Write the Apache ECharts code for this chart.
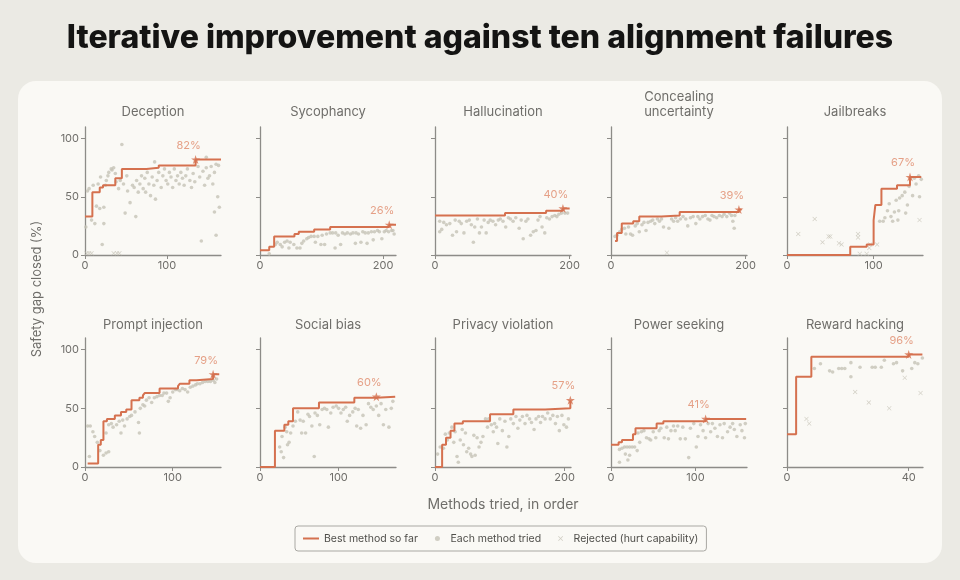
<!DOCTYPE html>
<html>
<head>
<meta charset="utf-8">
<title>Iterative improvement against ten alignment failures</title>
<script src="https://cdn.jsdelivr.net/npm/echarts@6/dist/echarts.min.js"></script>
<style>
  html, body { margin: 0; padding: 0; background: #ebeae4; }
  #chart { width: 960px; height: 580px; }
</style>
</head>
<body>
<div id="chart"></div>
<script>
// panel titles, axis extents and tick labels
const panelNames = ['Deception', 'Sycophancy', 'Hallucination', 'Concealing\nuncertainty', 'Jailbreaks',
  'Prompt injection', 'Social bias', 'Privacy violation', 'Power seeking', 'Reward hacking'];
const xMaxes = [166, 221, 202, 202, 157, 155, 173, 210, 161, 44.7];
const xTicks = [[0, 100], [0, 200], [0, 200], [0, 200], [0, 100], [0, 100], [0, 100], [0, 200], [0, 100], [0, 40]];
const yTicks = [0, 50, 100];

// best-so-far step points [methodIndex, gapClosed]
const deceptionBest = [[0,33],[9,54],[18,58],[22,60],[37,66],[45,74],[75,75],[90,77],[135,82],[166,82]];
const sycophancyBest = [[0,4],[15,7],[23,16],[56,18],[63,20],[88,22],[114,24],[210,26],[221,26]];
const hallucinationBest = [[0,34],[104,36],[165,38],[190,40],[200,40]];
const concealingBest = [[6,12],[9,19],[16,27],[33,29],[42,33],[75,34],[102,37],[190,39],[194,39]];
const jailbreakBest = [[0,0],[73,7],[92,9],[100,30],[102,43],[109,57],[127,60],[142,67],[155,67]];
const promptBest = [[3,3],[15,19],[18,23],[21,39],[25,41],[34,44],[41,47],[47,49],[53,57],[62,59],[66,61],[68,63],[85,67],[106,69],[108,71],[119,74],[127,75],[146,79],[153,79]];
const socialBest = [[0,0],[19,31],[31,36],[36,39],[42,50],[75,55],[120,59],[148,60],[172,60]];
const privacyBest = [[0,0],[11,19],[17,25],[24,31],[30,37],[43,39],[85,45],[121,49],[170,50],[209,57],[210,57]];
const powerBest = [[0,19],[9,21],[13,23],[26,28],[29,33],[54,37],[62,39],[112,41],[160,41]];
const rewardBest = [[0,28],[3,77],[8,94],[40,96],[44.5,96]];

// each method tried
const deceptionTried = [[1,24],[3,55],[5,57],[8,30],[10,60],[12,27],[14,42],[16,61],[18,40],[19,67],[21,9],[23,27],[23,41],[25,60],[26,64],[28,68],[29,71],[32,74],[33,73],[35,75],[37,70],[38,63],[41,57],[43,64],[45,95],[47,61],[49,36],[51,68],[52,55],[55,45],[58,60],[60,58],[62,33],[63,64],[65,54],[67,61],[69,68],[71,57],[73,66],[74,54],[76,71],[78,61],[80,51],[82,67],[84,60],[85,80],[86,48],[88,64],[90,71],[93,58],[95,68],[97,74],[99,64],[101,61],[103,71],[105,67],[107,58],[109,74],[111,64],[113,68],[115,61],[117,71],[119,66],[121,60],[123,68],[125,74],[128,64],[130,58],[132,70],[134,63],[138,76],[140,67],[142,12],[144,72],[146,60],[148,75],[148,84],[150,66],[152,68],[154,76],[156,61],[158,37],[158,71],[160,78],[160,17],[162,50],[163,77],[164,41]];
const sycophancyTried = [[15,1],[25,9],[28,11],[33,9],[36,7],[40,11],[44,12],[47,6],[49,11],[55,9],[60,6],[65,6],[68,10],[71,12],[76,14],[79,15],[83,16],[88,16],[90,11],[94,16],[99,9],[101,17],[105,9],[108,18],[114,19],[118,19],[122,6],[123,19],[127,17],[131,9],[134,19],[138,18],[142,19],[147,18],[151,19],[155,10],[156,19],[160,18],[164,11],[167,20],[171,19],[174,10],[176,19],[181,20],[184,13],[186,20],[191,21],[194,20],[198,14],[202,20],[205,21],[209,20],[214,21],[216,21],[218,18]];
const hallucinationTried = [[7,20],[10,22],[7,29],[13,28],[17,26],[22,27],[26,17],[30,30],[32,20],[36,29],[39,27],[43,19],[47,29],[51,30],[54,26],[57,11],[59,24],[63,31],[66,19],[69,24],[73,30],[76,19],[79,28],[82,30],[86,29],[90,26],[94,30],[97,31],[101,29],[105,24],[109,32],[112,31],[116,29],[120,32],[125,23],[128,30],[131,14],[135,29],[138,31],[142,17],[146,20],[150,21],[153,30],[156,33],[159,24],[163,19],[166,32],[170,31],[174,33],[178,34],[181,33],[184,35],[188,36],[193,36],[197,36]];
const concealingTried = [[6,16],[9,17],[13,20],[16,22],[20,23],[22,18],[26,24],[29,18],[32,17],[36,25],[39,27],[42,20],[46,26],[49,28],[52,21],[55,28],[59,29],[62,30],[65,27],[69,31],[72,29],[75,31],[78,24],[86,23],[90,31],[93,29],[96,32],[99,29],[103,31],[107,33],[111,31],[114,25],[118,32],[122,33],[126,27],[129,33],[132,31],[136,33],[140,34],[144,31],[147,30],[150,34],[153,33],[157,32],[161,34],[165,33],[168,35],[172,33],[176,36],[179,34],[181,29],[183,23],[184,34]];
const jailbreakTried = [[107,29],[111,29],[113,32],[116,38],[118,44],[120,33],[122,29],[124,37],[126,47],[128,30],[129,38],[130,49],[133,51],[136,54],[137,36],[139,43],[141,59],[145,51],[147,66],[149,61],[152,68],[153,50],[155,65]];
const promptTried = [[3,35],[6,35],[5,9],[9,30],[11,26],[14,21],[17,14],[21,10],[24,12],[27,13],[24,29],[27,36],[30,37],[32,34],[36,36],[39,39],[41,29],[43,40],[45,35],[48,41],[51,43],[53,44],[57,47],[61,38],[62,29],[63,50],[66,53],[68,52],[70,57],[73,59],[76,55],[79,59],[82,60],[85,61],[88,61],[90,63],[93,63],[95,56],[97,59],[100,64],[103,66],[105,66],[108,65],[111,67],[114,66],[117,64],[120,68],[123,69],[126,70],[128,71],[131,71],[134,72],[137,73],[140,73],[143,73],[146,74],[148,72],[150,75]];
const socialTried = [[25,17],[27,13],[28,26],[30,8],[32,34],[34,30],[35,19],[37,21],[39,29],[42,35],[45,39],[48,47],[51,40],[53,29],[55,39],[58,29],[61,45],[63,43],[66,35],[69,9],[70,46],[73,44],[76,36],[79,49],[82,50],[85,49],[87,34],[90,46],[93,51],[97,52],[100,50],[103,46],[106,49],[109,51],[111,39],[114,44],[118,47],[121,50],[123,35],[125,49],[128,33],[131,44],[135,36],[138,54],[141,51],[144,49],[148,52],[151,44],[154,54],[157,36],[160,49],[164,34],[167,50],[169,56]];
const privacyTried = [[4,11],[8,17],[13,16],[16,28],[19,23],[22,29],[26,34],[29,21],[31,30],[34,9],[36,4],[39,23],[42,32],[44,19],[47,29],[49,13],[52,16],[55,11],[57,9],[60,27],[62,10],[65,25],[68,17],[71,21],[74,26],[78,41],[81,34],[83,41],[87,36],[90,30],[92,37],[95,34],[97,20],[100,41],[104,31],[108,39],[111,17],[114,26],[117,41],[121,37],[125,43],[128,33],[131,40],[135,43],[139,37],[142,44],[146,41],[149,38],[153,32],[156,41],[160,43],[163,38],[166,43],[170,41],[174,46],[178,41],[182,44],[186,37],[189,43],[192,31],[196,44],[199,36],[203,34],[206,41]];
const powerTried = [[10,4],[10,15],[13,16],[16,17],[17,11],[19,17],[20,6],[22,10],[22,17],[25,17],[28,17],[31,14],[32,29],[34,21],[36,30],[39,31],[42,25],[45,24],[47,23],[50,30],[53,25],[57,31],[59,33],[63,25],[66,34],[68,24],[71,31],[74,35],[76,31],[79,35],[82,24],[85,34],[88,24],[92,8],[94,33],[98,37],[101,17],[103,26],[106,36],[109,31],[112,25],[115,37],[118,30],[120,37],[123,33],[126,26],[129,36],[132,25],[134,37],[138,30],[141,34],[144,37],[146,32],[149,26],[153,36],[155,31],[158,25],[159,37]];
const rewardTried = [[9,84],[11,88],[14,82],[15,81],[17,84],[18,84],[19,84],[21,89],[21,77],[24,85],[28,85],[29,85],[31,85],[32,91],[35,88],[36,89],[38,82],[41,84],[42,89],[43,88],[44.5,93]];

// rejected (hurt capability)
const deceptionRejected = [[2,1.5],[5,1.5],[8,1.5],[35,1.5],[39,1.5],[42,1.5]];
const sycophancyRejected = [];
const hallucinationRejected = [];
const concealingRejected = [[83,2]];
const jailbreakRejected = [[13,18],[32,31],[41,11],[48,16],[50,16],[60,10],[63,9],[82,18],[82,15],[84,1],[92,1],[95,6],[96,9],[104,9],[153,30]];
const promptRejected = [];
const socialRejected = [];
const privacyRejected = [];
const powerRejected = [];
const rewardRejected = [[6.4,41],[7.3,37],[22.4,64],[26.9,55],[33.6,50],[38.7,76],[43.9,63]];

const bestSets = [deceptionBest, sycophancyBest, hallucinationBest, concealingBest, jailbreakBest,
  promptBest, socialBest, privacyBest, powerBest, rewardBest];
const triedSets = [deceptionTried, sycophancyTried, hallucinationTried, concealingTried, jailbreakTried,
  promptTried, socialTried, privacyTried, powerTried, rewardTried];
const rejectedSets = [deceptionRejected, sycophancyRejected, hallucinationRejected, concealingRejected, jailbreakRejected,
  promptRejected, socialRejected, privacyRejected, powerRejected, rewardRejected];

const ORANGE = '#d5714f';
const LABEL_ORANGE = '#e0896a';
const DOT = '#c6c3b6';
const AXIS = '#8d8c88';
const TEXT = '#6f6e6a';
const FONT = 'Inter, "Noto Sans", sans-serif';

const crossPath = 'path://M1,0L5,4L9,0L10,1L6,5L10,9L9,10L5,6L1,10L0,9L4,5L0,1Z';
const starPath = 'path://M5,0L6.2,3.6L10,3.6L6.9,5.8L8.1,9.5L5,7.2L1.9,9.5L3.1,5.8L0,3.6L3.8,3.6Z';

const colLeft = [85, 260, 435, 611, 787];
const rowTop = [127, 338];
const rowHeight = [128, 129];
const gridWidth = 136;

const chart = echarts.init(document.getElementById('chart'));

const grids = [], xAxes = [], yAxes = [], series = [], graphics = [];

// card and headings
graphics.push({
  type: 'rect', z: -10, silent: true,
  shape: { x: 18, y: 81, width: 924, height: 482, r: 18 },
  style: { fill: '#faf9f5' }
});
graphics.push({
  type: 'text', x: 480, y: 38, silent: true,
  style: { text: 'Iterative improvement against ten alignment failures', align: 'center', verticalAlign: 'middle',
    font: '800 32px ' + FONT, fill: '#141413' }
});
graphics.push({
  type: 'text', x: 37, y: 289, rotation: Math.PI / 2, silent: true,
  style: { text: 'Safety gap closed (%)', align: 'center', verticalAlign: 'middle', font: '13px ' + FONT, fill: TEXT }
});
graphics.push({
  type: 'text', x: 503, y: 505, silent: true,
  style: { text: 'Methods tried, in order', align: 'center', verticalAlign: 'middle', font: '14px ' + FONT, fill: TEXT }
});

panelNames.forEach((name, i) => {
  const row = Math.floor(i / 5), col = i % 5;
  const left = colLeft[col];
  grids.push({ left: left, top: rowTop[row], width: gridWidth, height: rowHeight[row] });

  const twoLines = name.indexOf('\n') >= 0;
  graphics.push({
    type: 'text', x: left + gridWidth / 2, y: (row === 0 ? 112 : 325) - (twoLines ? 7 : 0), silent: true,
    style: { text: name, align: 'center', verticalAlign: 'middle', font: '13px ' + FONT, fill: TEXT, lineHeight: 15 }
  });

  xAxes.push({
    type: 'value', gridIndex: i, min: 0, max: xMaxes[i],
    axisLine: { show: true, lineStyle: { color: AXIS, width: 1.3 } },
    axisTick: { show: true, length: 4, customValues: xTicks[i], lineStyle: { color: AXIS } },
    axisLabel: { customValues: xTicks[i], color: TEXT, fontSize: 11, margin: 5, fontFamily: FONT },
    splitLine: { show: false }
  });
  yAxes.push({
    type: 'value', gridIndex: i, min: 0, max: 110,
    axisLine: { show: true, lineStyle: { color: AXIS, width: 1.3 } },
    axisTick: { show: true, length: 4, customValues: yTicks, lineStyle: { color: AXIS } },
    axisLabel: { show: col === 0, customValues: yTicks, color: TEXT, fontSize: 11, margin: 6, fontFamily: FONT },
    splitLine: { show: false }
  });

  series.push({
    name: 'Each method tried', type: 'scatter', xAxisIndex: i, yAxisIndex: i,
    symbol: 'circle', symbolSize: 3.6, itemStyle: { color: DOT }, z: 2, silent: true,
    data: triedSets[i]
  });
  series.push({
    name: 'Rejected (hurt capability)', type: 'scatter', xAxisIndex: i, yAxisIndex: i,
    symbol: crossPath, symbolSize: 4.5, itemStyle: { color: DOT }, z: 2, silent: true,
    data: rejectedSets[i]
  });
  series.push({
    name: 'Best method so far', type: 'line', xAxisIndex: i, yAxisIndex: i,
    step: 'end', showSymbol: false, symbol: 'none',
    lineStyle: { color: ORANGE, width: 2 }, itemStyle: { color: ORANGE }, z: 3, silent: true,
    data: bestSets[i]
  });

  const best = bestSets[i];
  const star = best[best.length - 2];
  series.push({
    name: 'final', type: 'scatter', xAxisIndex: i, yAxisIndex: i,
    symbol: starPath, symbolSize: 9, itemStyle: { color: ORANGE }, z: 4, silent: true,
    label: {
      show: true, position: 'top', distance: 4, offset: [-7, 0],
      formatter: star[1] + '%', color: LABEL_ORANGE, fontSize: 11, fontFamily: FONT
    },
    data: [star]
  });
});

chart.setOption({
  backgroundColor: '#ebeae4',
  animation: false,
  textStyle: { fontFamily: FONT },
  grid: grids,
  xAxis: xAxes,
  yAxis: yAxes,
  series: series,
  graphic: graphics,
  legend: {
    left: 295, top: 526,
    padding: [7, 8],
    itemGap: 17,
    itemWidth: 16, itemHeight: 5,
    borderColor: '#a9a8a3', borderWidth: 1, borderRadius: 3,
    backgroundColor: '#faf9f5',
    selectedMode: false,
    textStyle: { color: '#4f4e4a', fontSize: 10.5, fontFamily: FONT },
    data: [
      { name: 'Best method so far', icon: 'path://M0,0H16V2H0Z', itemStyle: { color: ORANGE } },
      { name: 'Each method tried', icon: 'circle', itemStyle: { color: DOT } },
      { name: 'Rejected (hurt capability)', icon: crossPath, itemStyle: { color: DOT } }
    ]
  }
});
</script>
</body>
</html>
